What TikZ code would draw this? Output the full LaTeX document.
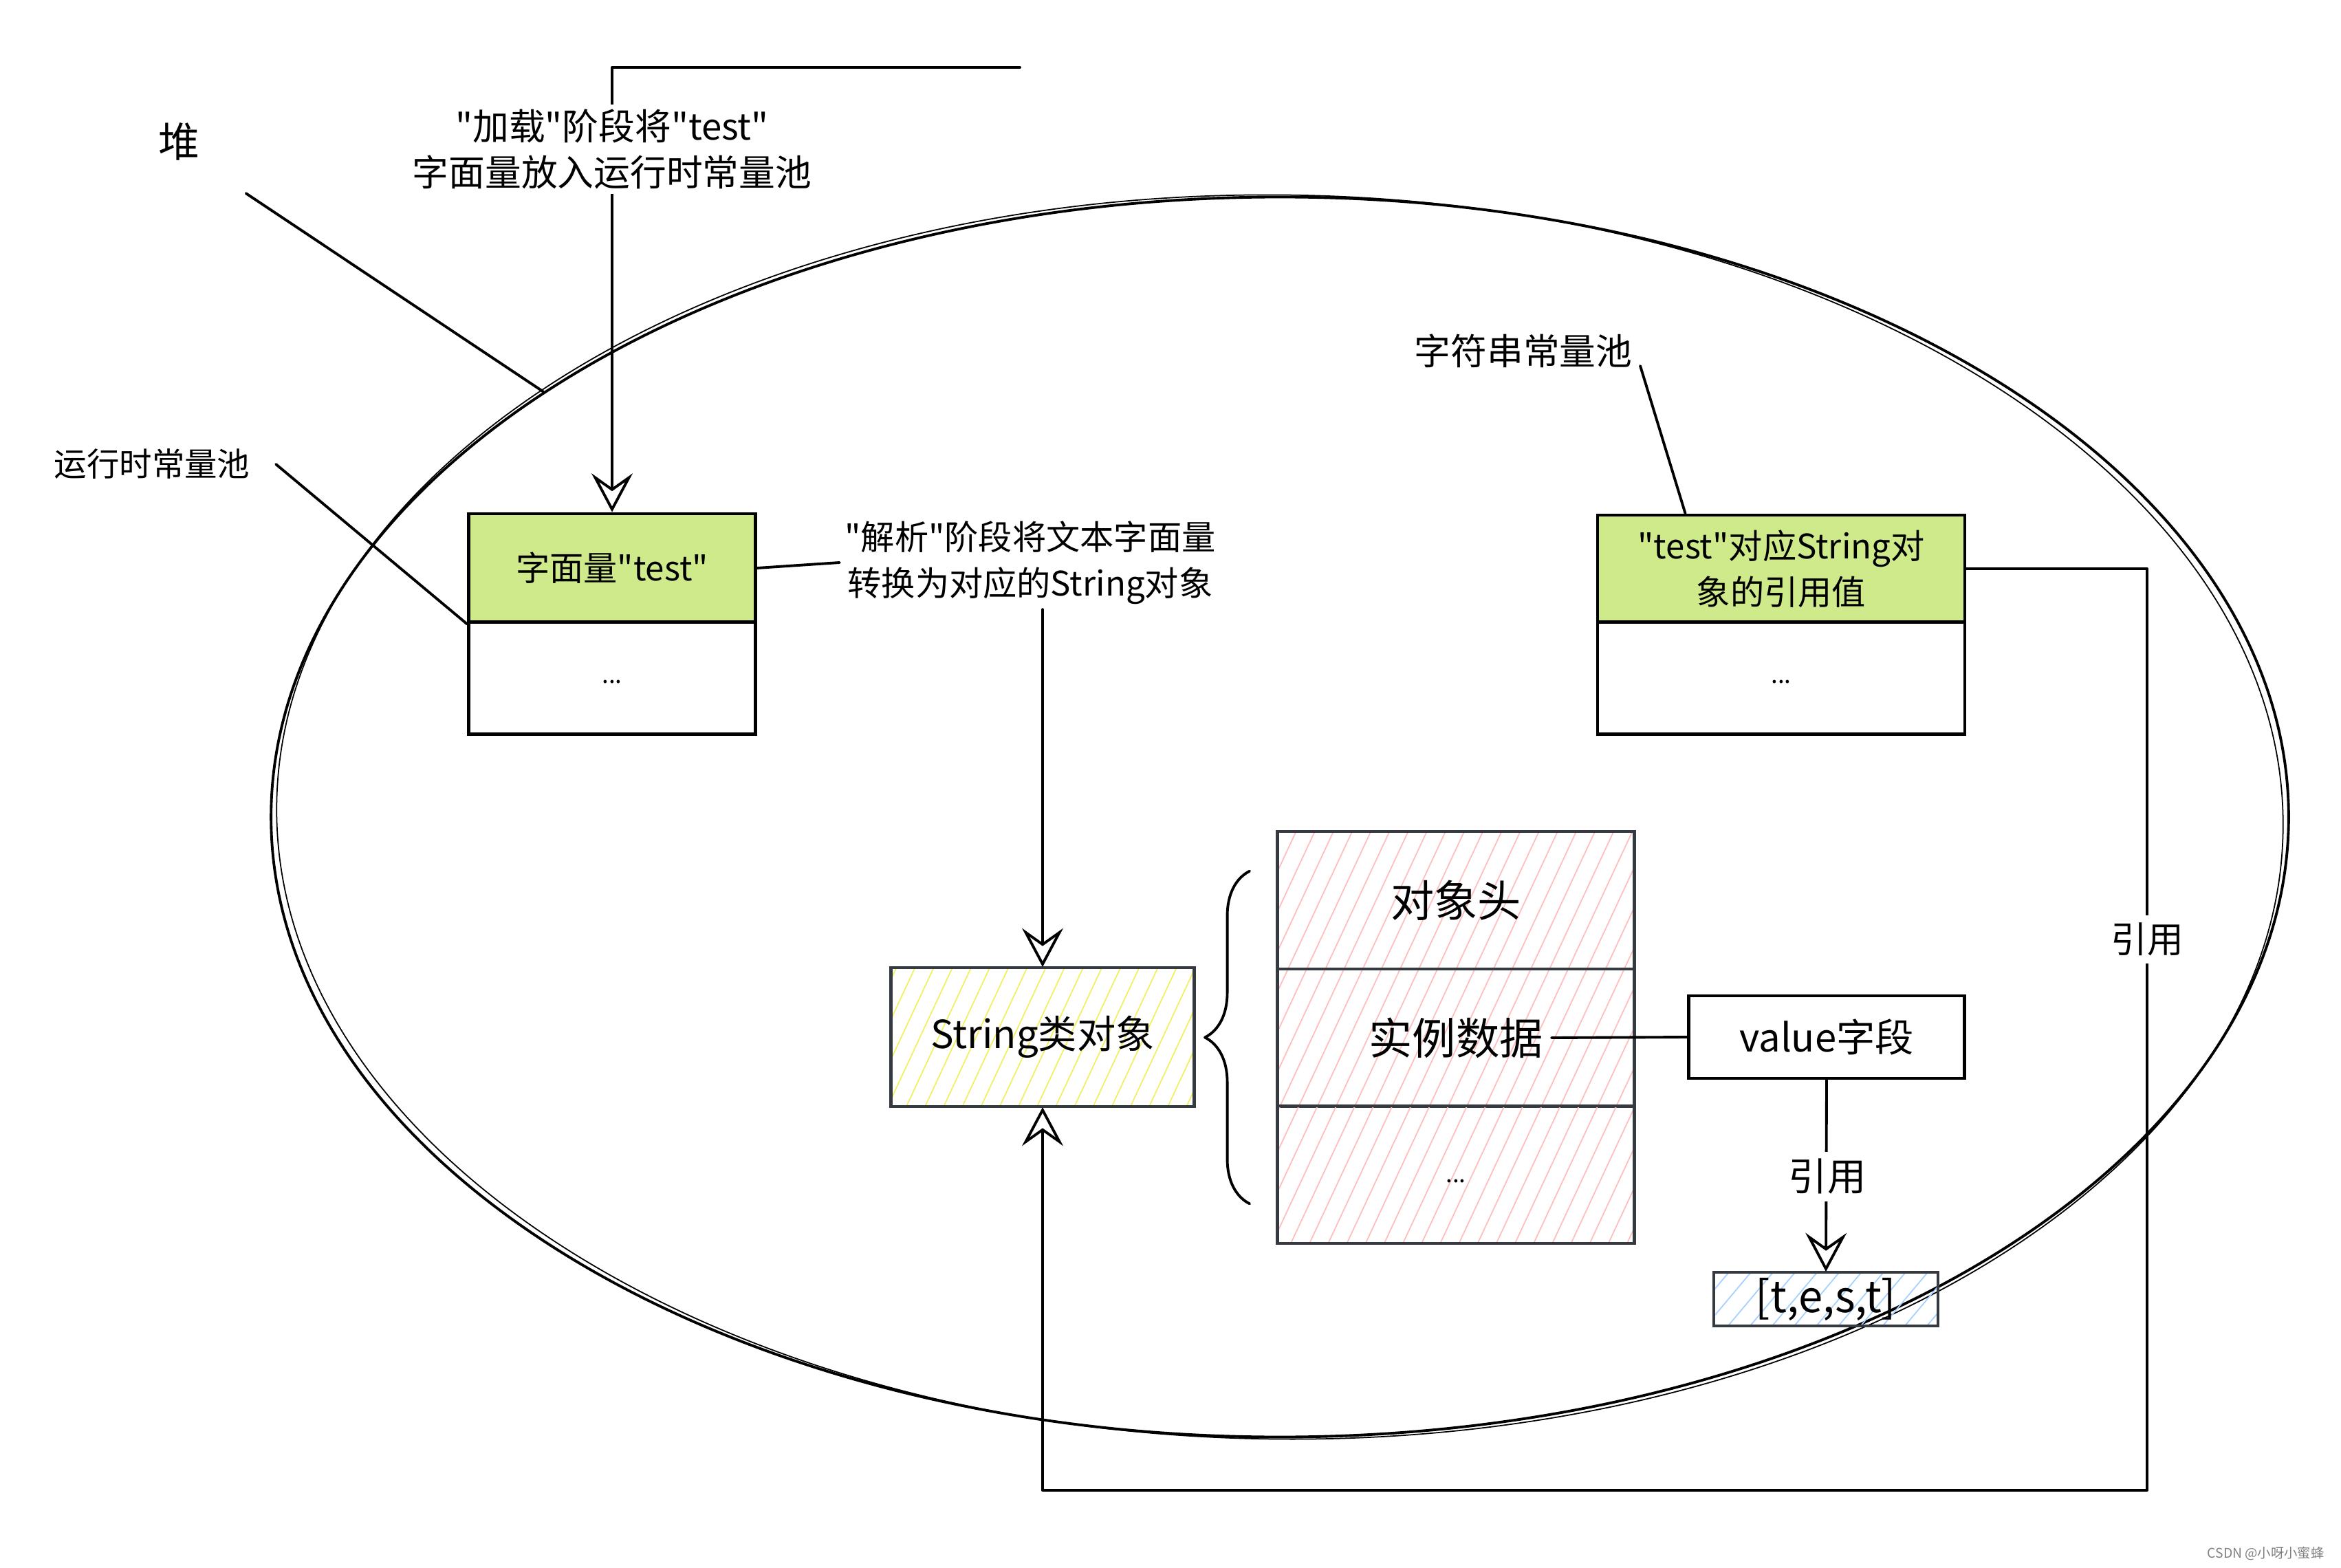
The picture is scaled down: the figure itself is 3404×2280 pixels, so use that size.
\documentclass[tikz,border=0pt]{standalone}
\usepackage{fontspec}
\setmainfont{Noto Sans CJK SC}[Ligatures=TeXOff]
\usetikzlibrary{shapes.geometric,arrows.meta,patterns.meta,decorations.pathreplacing,calc}
\definecolor{poolgreen}{HTML}{CEEA8B}
\definecolor{hatchred}{HTML}{FFBDBD}
\definecolor{hatchyellow}{HTML}{F0F060}
\definecolor{hatchblue}{HTML}{A5D0FF}
\definecolor{edgegray}{HTML}{343A40}
\newcommand\sizedfont[2]{\fontsize{#1}{#2}\selectfont}
\tikzset{
  sketch/.style={line width=1.1pt, line cap=round, line join=round},
  harrow/.style={sketch, -{Stealth[open, length=16pt, width=17pt, inset=6pt]}},
  heapshape/.style={
    draw, sketch, shape=ellipse, inner sep=0pt,
    minimum width=29.32cm, minimum height=18.02cm
  },
  poolcell/.style={
    draw, line width=1.3pt, inner sep=0pt, align=center,
    font=\sizedfont{14}{19}
  },
  dots/.style={font=\sizedfont{10}{12}},
  objcell/.style={
    draw=edgegray, line width=1.3pt, inner sep=0pt,
    minimum width=5.19cm, minimum height=2.0cm,
    pattern={Lines[angle=65, distance=7pt, line width=0.5pt]},
    pattern color=hatchred, font=\sizedfont{18}{22}
  },
  lbl/.style={inner sep=2pt, align=center, font=\sizedfont{15}{19}},
  reflbl/.style={fill=white, inner sep=3pt, font=\sizedfont{#1}{#1}}
}
\begin{document}
\begin{tikzpicture}[x=0.01cm, y=-0.01cm]
  \useasboundingbox (0,0) rectangle (3404,2280);

  % heap
  \node[heapshape] (heap) at (1861,1188) {};
  \draw[line width=0.5pt, rotate around={-0.7:(1861,1188)}] (1861,1188) ellipse [x radius=14.58cm, y radius=9.04cm];
  \node[lbl, font=\sizedfont{17}{20}] (heaplbl) at (260,206) {堆};

  % runtime constant pool
  \node[poolcell, fill=poolgreen, minimum width=4.17cm, minimum height=1.58cm] (poolLtop) at (890,826) {字面量"test"};
  \node[poolcell, dots, minimum width=4.17cm, minimum height=1.63cm] (poolLrest) at (890,986) {\raisebox{-0.8ex}{...}};
  \node[lbl, font=\sizedfont{13.5}{17}] (rtpoollbl) at (221,675) {运行时常量池};

  % string constant pool
  \node[poolcell, fill=poolgreen, minimum width=5.34cm, minimum height=1.56cm] (poolRtop) at (2590,827) {"test"对应String对\\象的引用值};
  \node[poolcell, dots, minimum width=5.34cm, minimum height=1.63cm] (poolRrest) at (2590,986) {\raisebox{-0.8ex}{...}};
  \node[lbl] (strpoollbl) at (2215,510) {字符串常量池};

  % String object and its layout
  \node[draw=edgegray, line width=1.3pt, minimum width=4.41cm, minimum height=2.02cm,
    pattern={Lines[angle=65, distance=7pt, line width=0.5pt]}, pattern color=hatchyellow,
    font=\sizedfont{16}{18}] (strobj) at (1516,1508) {String类对象};
  \node[objcell] (objhead) at (2117,1309) {对象头};
  \node[objcell] (objdata) at (2117,1509) {};
  \node[font=\sizedfont{18}{22}] (datatxt) at (objdata) {实例数据};
  \node[objcell, dots] (objmore) at (2117,1708) {\raisebox{-1.2ex}{...}};
  \node[draw, line width=1.3pt, minimum width=4.01cm, minimum height=1.2cm,
    font=\sizedfont{16}{20}] (valfield) at (2656,1508) {value字段};
  \node[draw=edgegray, line width=1.3pt, minimum width=3.26cm, minimum height=0.78cm, inner sep=0pt,
    pattern={Lines[angle=50, distance=7pt, line width=0.5pt]}, pattern color=hatchblue,
    font=\sizedfont{18}{20}] (arr) at (2655,1889) {[t,e,s,t]};

  \draw[sketch, decorate, decoration={brace, amplitude=0.65cm}]
    ($(objmore.south west)+(-38,-60)$) -- ($(objhead.north west)+(-38,60)$);

  % connectors
  \draw[sketch] ($(heaplbl.south east)+(60,40)$) -- (heap.150);
  \draw[sketch] ($(rtpoollbl.east)+(30,0)$) -- (poolLtop.south west);
  \draw[sketch] ($(strpoollbl.east)+(4,22)$) -- ($(poolRtop.north west)+(130,0)$);

  \coordinate (loadstart) at (1483,98);
  \draw[harrow] (loadstart) -- (loadstart -| poolLtop.north) -- (poolLtop.north);
  \node[lbl, fill=white] (loadlbl) at (890,217) {"加载"阶段将"test"\\字面量放入运行时常量池};

  \node[lbl, font=\sizedfont{14}{19}] (parselbl) at (1498,818) {"解析"阶段将文本字面量\\转换为对应的String对象};
  \draw[sketch] (poolLtop.east) -- (parselbl.west);
  \draw[harrow] (parselbl.south -| strobj.north) -- (strobj.north);

  \draw[sketch] (datatxt.east) -- (valfield.west);
  \draw[harrow] (valfield.south) -- (arr.north);
  \node[reflbl=16] (reflbl1) at (2657,1711) {引用};

  \coordinate (loopcorner) at (3122,2167);
  \draw[harrow] (poolRtop.east) -| (loopcorner) -| (strobj.south);
  \node[reflbl=15] (reflbl2) at (3122,1366) {引用};

  \node[anchor=east, text=gray, font=\sizedfont{5.5}{7}] (mark) at (3392,2259) {CSDN @小呀小蜜蜂};
\end{tikzpicture}
\end{document}
